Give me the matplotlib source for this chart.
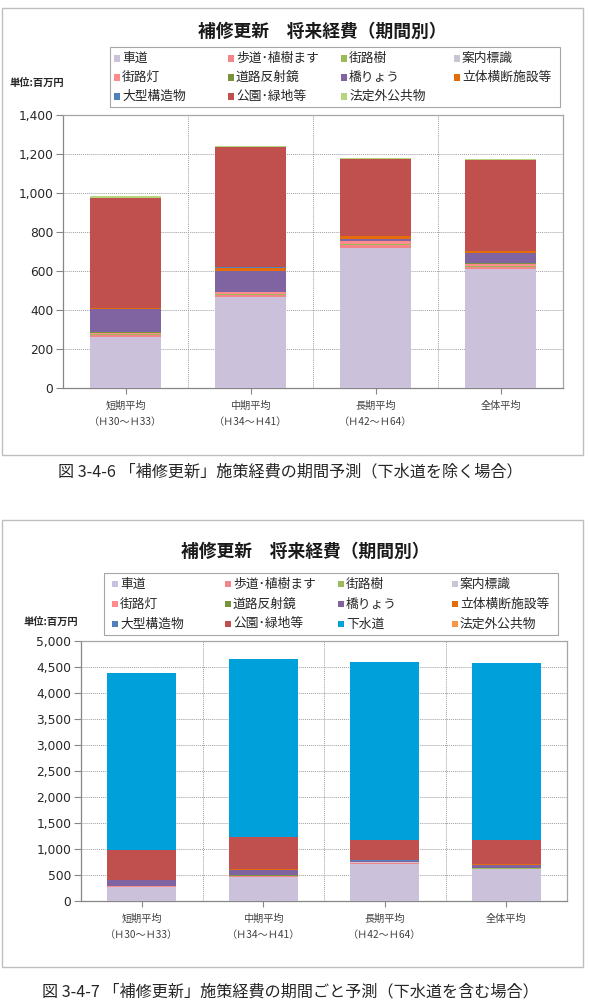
import numpy as np
import matplotlib
matplotlib.use('Agg')
import matplotlib.pyplot as plt
import matplotlib.patches as patches
from matplotlib.ticker import FuncFormatter

plt.rcParams['font.family'] = ['Noto Sans CJK JP', 'DejaVu Sans']

W, H = 589, 1001

title = '補修更新\u3000将来経費（期間別）'
unit = '単位:百万円'
periods = ['短期平均\n（Ｈ30～Ｈ33）', '中期平均\n（Ｈ34～Ｈ41）',
           '長期平均\n（Ｈ42～Ｈ64）', '全体平均']

names = ['車道', '歩道･植樹ます', '街路樹', '案内標識', '街路灯', '道路反射鏡',
         '橋りょう', '立体横断施設等', '大型構造物', '公園･緑地等']
colors = ['#CCC1DA', '#F4868A', '#9BBB59', '#C9C5D4', '#FF8C8C', '#77933C',
          '#8064A2', '#E46C0A', '#4F81BD', '#C0504D']

# values in million yen, per period (short, mid, long, overall)
shado     = [263, 465, 720, 608]
hodou     = [8, 12, 15, 15]
gairoju   = [5, 3, 3, 3]
annai     = [2, 2, 3, 2]
gairotou  = [5, 8, 12, 10]
hansha    = [3, 2, 2, 2]
kyouryou  = [120, 110, 8, 50]
rittai    = [3, 15, 15, 13]
oogata    = [2, 3, 2, 2]
kouen     = [565, 615, 395, 463]
gesuidou  = [3410, 3420, 3420, 3410]
houteigai = [7, 7, 5, 6]

base_series = [shado, hodou, gairoju, annai, gairotou, hansha,
               kyouryou, rittai, oogata, kouen]

captions = ['図 3-4-6 「補修更新」施策経費の期間予測（下水道を除く場合）',
            '図 3-4-7 「補修更新」施策経費の期間ごと予測（下水道を含む場合）']


def px_axes(fig, x0, y0, x1, y1):
    return fig.add_axes([x0 / W, 1 - y1 / H, (x1 - x0) / W, (y1 - y0) / H])


def frame(fig, x0, y0, x1, y1):
    r = patches.Rectangle((x0 / W, 1 - y1 / H), (x1 - x0) / W, (y1 - y0) / H,
                          transform=fig.transFigure, fill=False,
                          edgecolor='#BFBFBF', lw=1.0)
    fig.patches.append(r)


def legend_box(fig, x0, y0, x1, y1, labels, cols, col_x, row_y):
    r = patches.Rectangle((x0 / W, 1 - y1 / H), (x1 - x0) / W, (y1 - y0) / H,
                          transform=fig.transFigure, fill=False,
                          edgecolor='#A6A6A6', lw=0.8)
    fig.patches.append(r)
    for i, (lab, c) in enumerate(zip(labels, cols)):
        row, col = divmod(i, 4)
        mx, my = col_x[col], row_y[row]
        sq = patches.Rectangle(((mx - 3) / W, 1 - (my + 3) / H), 6 / W, 6 / H,
                               transform=fig.transFigure, facecolor=c,
                               edgecolor='none')
        fig.patches.append(sq)
        fig.text((mx + 5) / W, 1 - my / H, lab, fontsize=9.2, va='center',
                 ha='left', color='#262626')


def chart(fig, rect, series, labels, cols, ymax, ystep):
    ax = px_axes(fig, *rect)
    x = np.arange(len(periods))
    bottom = np.zeros(len(periods))
    for vals, c in zip(series, cols):
        ax.bar(x, vals, width=0.57, bottom=bottom, color=c, edgecolor='none', zorder=3)
        bottom += np.array(vals)
    ax.set_xlim(-0.5, len(periods) - 0.5)
    ax.set_ylim(0, ymax)
    ax.set_yticks(np.arange(0, ymax + 1, ystep))
    ax.yaxis.set_major_formatter(FuncFormatter(lambda v, p: f'{int(v):,}'))
    ax.set_xticks(x)
    ax.set_xticklabels(periods, fontsize=7.3, color='#404040', linespacing=1.75)
    for t in ax.get_yticklabels():
        t.set_fontfamily('DejaVu Sans')
        t.set_fontsize(8.8)
        t.set_color('#262626')
    ax.tick_params(axis='y', length=5, width=0.8, color='#868686', pad=2)
    ax.tick_params(axis='x', length=4, width=0.8, color='#868686', pad=5)
    ax.yaxis.grid(True, linestyle=(0, (1, 1)), color='#A0A0A0', lw=0.7, zorder=0)
    for b in np.arange(0.5, len(periods) - 0.5, 1):
        ax.axvline(b, linestyle=(0, (1, 1)), color='#A0A0A0', lw=0.7, zorder=0)
    ax.set_axisbelow(True)
    for s in ax.spines.values():
        s.set_color('#A6A6A6')
        s.set_linewidth(0.9)
    ax.spines['left'].set_color('#868686')
    ax.spines['bottom'].set_color('#868686')
    return ax


fig = plt.figure(figsize=(W / 100, H / 100), dpi=100)
fig.patch.set_facecolor('white')

# top chart: sewer excluded
top_series = base_series + [houteigai]
top_names = names + ['法定外公共物']
top_colors = colors + ['#B5D57F']
frame(fig, 2, 8, 583, 455)
fig.text(322 / W, 1 - 32 / H, title, fontsize=12.8, fontweight='bold',
         ha='center', va='center', color='#1A1A1A')
legend_box(fig, 110, 47, 560, 107, top_names, top_colors,
           [117, 231, 344, 457], [58.5, 77.5, 96.5])
fig.text(9 / W, 1 - 83 / H, unit, fontsize=7.4, fontweight='bold',
         ha='left', va='center', color='#262626')
chart(fig, (63, 115, 563, 388), top_series, top_names, top_colors, 1400, 200)
fig.text(290 / W, 1 - 472 / H, captions[0], fontsize=11.6, ha='center',
         va='center', color='#262626')

# bottom chart: sewer included
bot_series = base_series + [gesuidou, houteigai]
bot_names = names + ['下水道', '法定外公共物']
bot_colors = colors + ['#00A0DA', '#F79646']
frame(fig, 2, 520, 583, 967)
fig.text(305 / W, 1 - 552 / H, title, fontsize=12.8, fontweight='bold',
         ha='center', va='center', color='#1A1A1A')
legend_box(fig, 104, 573, 558, 635, bot_names, bot_colors,
           [115, 228, 341, 455], [584, 604, 624])
fig.text(24 / W, 1 - 622 / H, unit, fontsize=7.4, fontweight='bold',
         ha='left', va='center', color='#262626')
chart(fig, (81, 641, 567, 901), bot_series, bot_names, bot_colors, 5000, 500)
fig.text(290 / W, 1 - 992 / H, captions[1], fontsize=11.6, ha='center',
         va='center', color='#262626')

fig.savefig('out.png', dpi=100)
